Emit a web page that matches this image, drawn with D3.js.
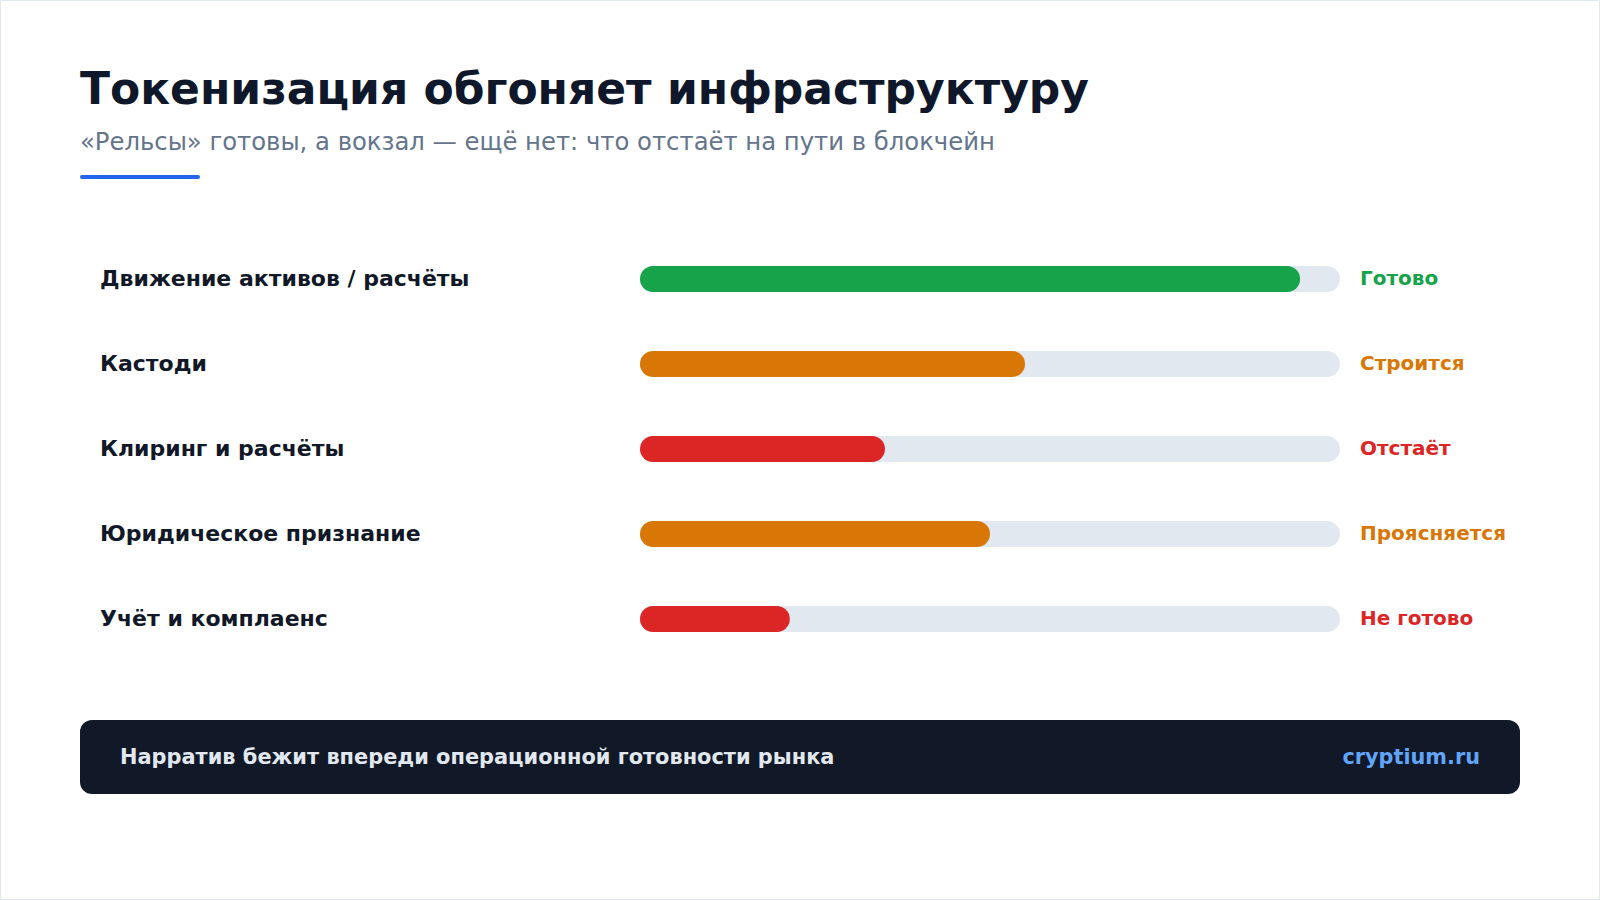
<!DOCTYPE html>
<html>
<head>
<meta charset="utf-8">
<script src="https://cdn.jsdelivr.net/npm/d3@7"></script>
<style>
  html,body{margin:0;padding:0;background:#fff;}
  svg{display:block;font-family:"DejaVu Sans",sans-serif;}
</style>
</head>
<body>
<svg id="chart" width="1600" height="900"></svg>
<script>
// data
const categories = ["Движение активов / расчёты","Кастоди","Клиринг и расчёты","Юридическое признание","Учёт и комплаенс"];
const readiness = [94.3, 55, 35, 50, 21.4];
const statusLabels = ["Готово","Строится","Отстаёт","Проясняется","Не готово"];
const statusKind = ["ok","mid","bad","mid","bad"];

const title = "Токенизация обгоняет инфраструктуру";
const subtitle = "«Рельсы» готовы, а вокзал — ещё нет: что отстаёт на пути в блокчейн";
const footNote = "Нарратив бежит впереди операционной готовности рынка";
const brand = "cryptium.ru";

const colors = {ok:"#16a34a", mid:"#d97706", bad:"#dc2626"};

const svg = d3.select("#chart");
const W = 1600, H = 900;

svg.append("rect").attr("x",0.5).attr("y",0.5).attr("width",W-1).attr("height",H-1)
  .attr("fill","#fff").attr("stroke","#e2e8f0").attr("stroke-width",1);

// header
svg.append("text").attr("x",80).attr("y",104).text(title)
  .style("font-size","44px").style("font-weight","bold").style("fill","#0f172a");
svg.append("text").attr("x",80).attr("y",150).text(subtitle)
  .style("font-size","24.3px").style("fill","#64748b");
svg.append("rect").attr("x",80).attr("y",175).attr("width",120).attr("height",4).attr("rx",2)
  .attr("fill","#2563eb");

// rows
const rows = categories.map((c,i)=>({cat:c, v:readiness[i], status:statusLabels[i], kind:statusKind[i]}));
const y = d3.scaleBand().domain(categories).range([236.5,661.5]).padding(0);
const x = d3.scaleLinear().domain([0,100]).range([640,1340]);
const barH = 26;

const g = svg.append("g").selectAll("g").data(rows).join("g")
  .attr("transform",d=>"translate(0,"+(y(d.cat)+y.bandwidth()/2)+")");

g.append("text").attr("x",100).attr("dy","0.3em").text(d=>d.cat)
  .style("font-size","22px").style("font-weight","bold").style("fill","#111827");

g.append("rect").attr("x",x(0)).attr("y",-barH/2).attr("width",x(100)-x(0)).attr("height",barH)
  .attr("rx",barH/2).attr("fill","#e2e8f0");

g.append("rect").attr("x",x(0)).attr("y",-barH/2).attr("width",d=>x(d.v)-x(0)).attr("height",barH)
  .attr("rx",barH/2).attr("fill",d=>colors[d.kind]);

g.append("text").attr("x",x(100)+20).attr("dy","0.32em").text(d=>d.status)
  .style("font-size","20px").style("font-weight","bold").style("fill",d=>colors[d.kind]);

// footer
svg.append("rect").attr("x",80).attr("y",720).attr("width",1440).attr("height",74).attr("rx",12)
  .attr("fill","#111827");
svg.append("text").attr("x",120).attr("y",757).attr("dy","0.35em").text(footNote)
  .style("font-size","20.9px").style("font-weight","bold").style("fill","#e2e8f0");
svg.append("text").attr("x",1480).attr("y",757).attr("dy","0.35em").attr("text-anchor","end").text(brand)
  .style("font-size","20.8px").style("font-weight","bold").style("fill","#60a5fa");
</script>
</body>
</html>
